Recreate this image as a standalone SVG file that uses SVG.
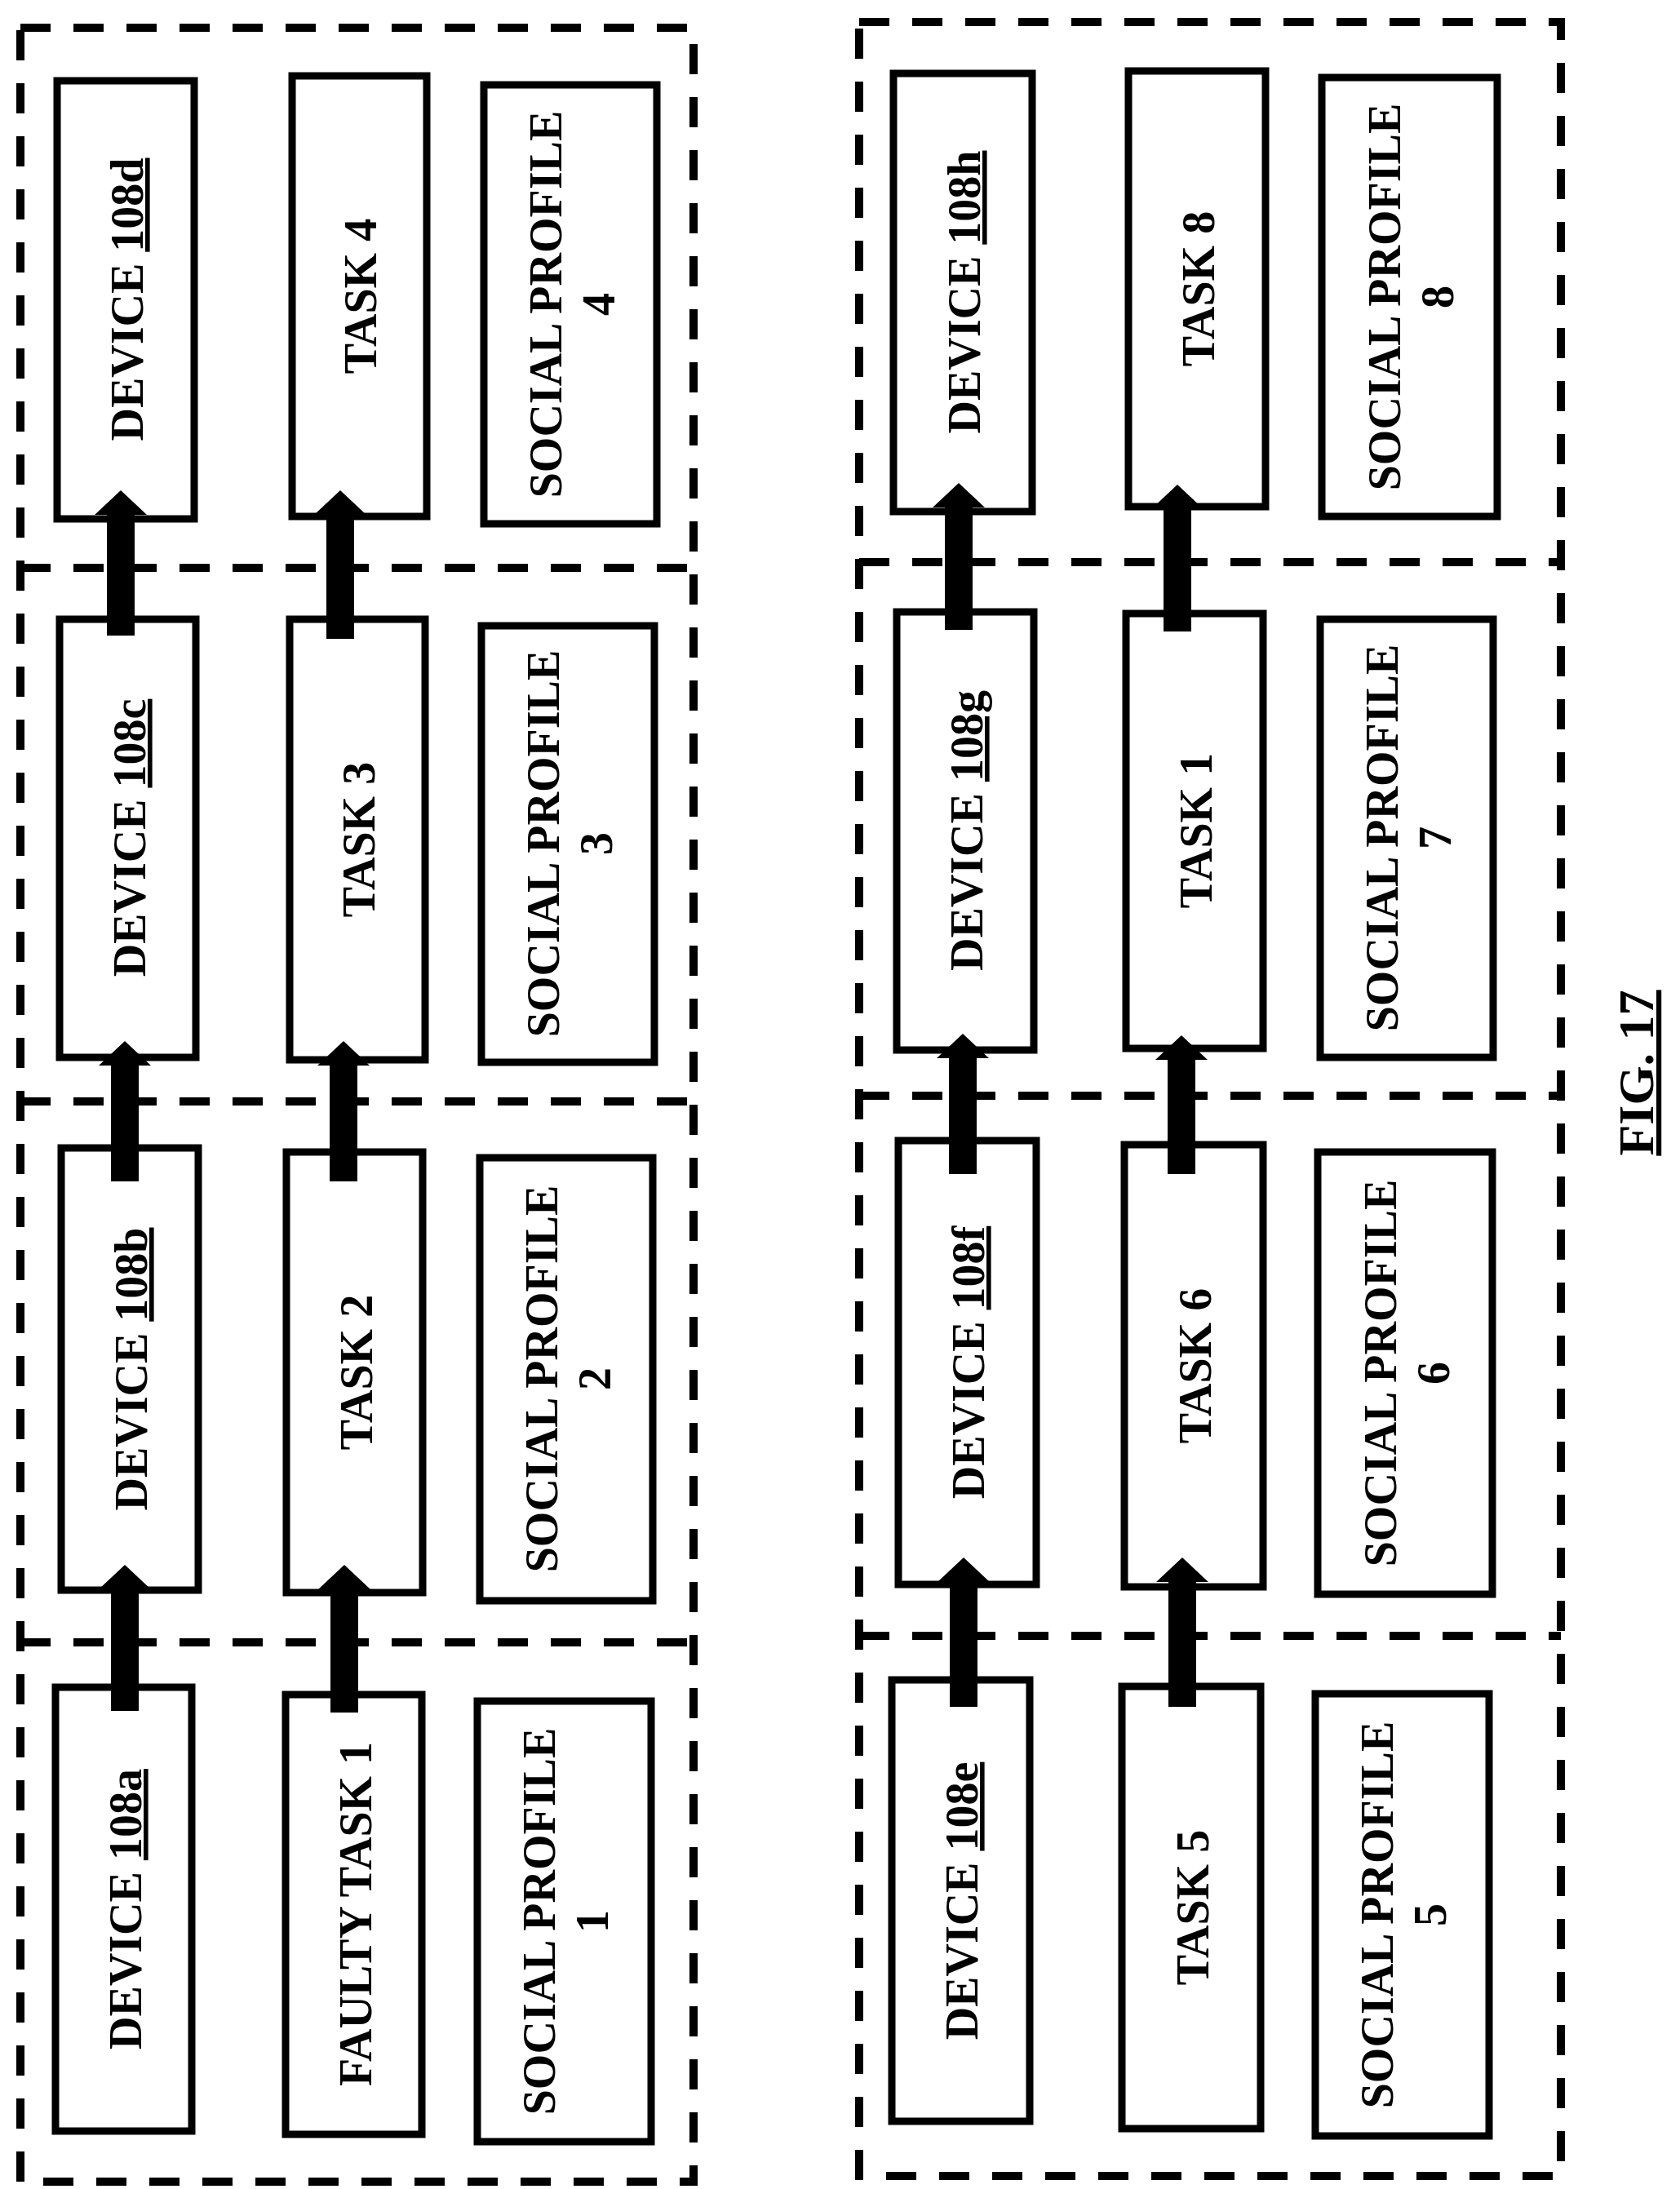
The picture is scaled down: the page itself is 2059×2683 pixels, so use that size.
<svg xmlns="http://www.w3.org/2000/svg" width="2059" height="2683" viewBox="0 0 2059 2683">
<style>
.panel{fill:none;stroke:#000;stroke-width:10;stroke-dasharray:37 28}
.box{fill:#fff;stroke:#000;stroke-width:9}
text{font-family:"Liberation Serif","Times New Roman",serif;font-weight:bold;font-size:56px;fill:#000;text-anchor:middle}
.arrow{fill:#000}
</style>
<rect width="2059" height="2683" fill="#fff"/>
<g id="panels">
<rect class="panel" x="25" y="34" width="825" height="2640"/>
<line class="panel" x1="25" y1="696" x2="850" y2="696"/>
<line class="panel" x1="25" y1="1350" x2="850" y2="1350"/>
<line class="panel" x1="25" y1="2013" x2="850" y2="2013"/>
<rect class="panel" x="1053" y="27" width="860" height="2640"/>
<line class="panel" x1="1053" y1="689" x2="1913" y2="689"/>
<line class="panel" x1="1053" y1="1343" x2="1913" y2="1343"/>
<line class="panel" x1="1053" y1="2005" x2="1913" y2="2005"/>
</g>
<g id="node-device-108a"><rect class="box" x="68" y="2068" width="167" height="544"/><text transform="translate(173,2340) rotate(-90)">DEVICE <tspan text-decoration="underline">108a</tspan></text></g>
<g id="node-faulty-task-1"><rect class="box" x="350" y="2077" width="167" height="539"/><text transform="translate(455,2346) rotate(-90)">FAULTY TASK 1</text></g>
<g id="node-social-profile-1"><rect class="box" x="585" y="2085" width="213" height="540"/><text transform="translate(691,2355) rotate(-90)"><tspan x="0" y="-11">SOCIAL PROFILE</tspan><tspan x="0" y="54">1</tspan></text></g>
<g id="node-device-108b"><rect class="box" x="75" y="1407" width="168" height="542"/><text transform="translate(180,1678) rotate(-90)">DEVICE <tspan text-decoration="underline">108b</tspan></text></g>
<g id="node-task-2"><rect class="box" x="351" y="1412" width="167" height="540"/><text transform="translate(456,1682) rotate(-90)">TASK 2</text></g>
<g id="node-social-profile-2"><rect class="box" x="588" y="1419" width="212" height="543"/><text transform="translate(694,1690) rotate(-90)"><tspan x="0" y="-11">SOCIAL PROFILE</tspan><tspan x="0" y="54">2</tspan></text></g>
<g id="node-device-108c"><rect class="box" x="73" y="759" width="167" height="537"/><text transform="translate(178,1027) rotate(-90)">DEVICE <tspan text-decoration="underline">108c</tspan></text></g>
<g id="node-task-3"><rect class="box" x="355" y="759" width="166" height="540"/><text transform="translate(459,1029) rotate(-90)">TASK 3</text></g>
<g id="node-social-profile-3"><rect class="box" x="590" y="767" width="212" height="535"/><text transform="translate(696,1034) rotate(-90)"><tspan x="0" y="-11">SOCIAL PROFILE</tspan><tspan x="0" y="54">3</tspan></text></g>
<g id="node-device-108d"><rect class="box" x="70" y="99" width="168" height="537"/><text transform="translate(175,367) rotate(-90)">DEVICE <tspan text-decoration="underline">108d</tspan></text></g>
<g id="node-task-4"><rect class="box" x="358" y="93" width="165" height="540"/><text transform="translate(461,363) rotate(-90)">TASK 4</text></g>
<g id="node-social-profile-4"><rect class="box" x="593" y="104" width="212" height="538"/><text transform="translate(699,373) rotate(-90)"><tspan x="0" y="-11">SOCIAL PROFILE</tspan><tspan x="0" y="54">4</tspan></text></g>
<g id="node-device-108e"><rect class="box" x="1093" y="2059" width="169" height="541"/><text transform="translate(1198,2330) rotate(-90)">DEVICE <tspan text-decoration="underline">108e</tspan></text></g>
<g id="node-task-5"><rect class="box" x="1375" y="2067" width="170" height="542"/><text transform="translate(1481,2338) rotate(-90)">TASK 5</text></g>
<g id="node-social-profile-5"><rect class="box" x="1612" y="2076" width="213" height="542"/><text transform="translate(1718,2347) rotate(-90)"><tspan x="0" y="-11">SOCIAL PROFILE</tspan><tspan x="0" y="54">5</tspan></text></g>
<g id="node-device-108f"><rect class="box" x="1101" y="1398" width="169" height="544"/><text transform="translate(1206,1670) rotate(-90)">DEVICE <tspan text-decoration="underline">108f</tspan></text></g>
<g id="node-task-6"><rect class="box" x="1378" y="1403" width="170" height="542"/><text transform="translate(1484,1674) rotate(-90)">TASK 6</text></g>
<g id="node-social-profile-6"><rect class="box" x="1615" y="1412" width="214" height="542"/><text transform="translate(1722,1683) rotate(-90)"><tspan x="0" y="-11">SOCIAL PROFILE</tspan><tspan x="0" y="54">6</tspan></text></g>
<g id="node-device-108g"><rect class="box" x="1099" y="750" width="168" height="537"/><text transform="translate(1204,1018) rotate(-90)">DEVICE <tspan text-decoration="underline">108g</tspan></text></g>
<g id="node-task-1"><rect class="box" x="1380" y="752" width="168" height="533"/><text transform="translate(1485,1018) rotate(-90)">TASK 1</text></g>
<g id="node-social-profile-7"><rect class="box" x="1618" y="759" width="212" height="537"/><text transform="translate(1724,1027) rotate(-90)"><tspan x="0" y="-11">SOCIAL PROFILE</tspan><tspan x="0" y="54">7</tspan></text></g>
<g id="node-device-108h"><rect class="box" x="1095" y="90" width="170" height="537"/><text transform="translate(1201,358) rotate(-90)">DEVICE <tspan text-decoration="underline">108h</tspan></text></g>
<g id="node-task-8"><rect class="box" x="1383" y="87" width="168" height="534"/><text transform="translate(1488,354) rotate(-90)">TASK 8</text></g>
<g id="node-social-profile-8"><rect class="box" x="1620" y="95" width="215" height="538"/><text transform="translate(1727,364) rotate(-90)"><tspan x="0" y="-11">SOCIAL PROFILE</tspan><tspan x="0" y="54">8</tspan></text></g>
<g id="connectors" class="arrow">
<path d="M131,779 V631 H116 L148,601 L180,631 H165 V779 Z"/>
<path d="M400,783 V631 H385 L417,601 L449,631 H434 V783 Z"/>
<path d="M136,1448 V1306 H121 L153,1276 L185,1306 H170 V1448 Z"/>
<path d="M404,1448 V1306 H389 L421,1276 L453,1306 H438 V1448 Z"/>
<path d="M136,2097 V1948 H121 L153,1918 L185,1948 H170 V2097 Z"/>
<path d="M405,2099 V1948 H390 L422,1918 L454,1948 H439 V2099 Z"/>
<path d="M1164,2092 V1939 H1149 L1181,1909 L1213,1939 H1198 V2092 Z"/>
<path d="M1432,2092 V1939 H1417 L1449,1909 L1481,1939 H1466 V2092 Z"/>
<path d="M1163,1439 V1297 H1148 L1180,1267 L1212,1297 H1197 V1439 Z"/>
<path d="M1431,1439 V1299 H1416 L1448,1269 L1480,1299 H1465 V1439 Z"/>
<path d="M1158,772 V622 H1143 L1175,592 L1207,622 H1192 V772 Z"/>
<path d="M1426,774 V624 H1411 L1443,594 L1475,624 H1460 V774 Z"/>
</g>
<text transform="translate(2026,1315) rotate(-90)" style="font-size:62px" text-decoration="underline">FIG. 17</text>
</svg>
